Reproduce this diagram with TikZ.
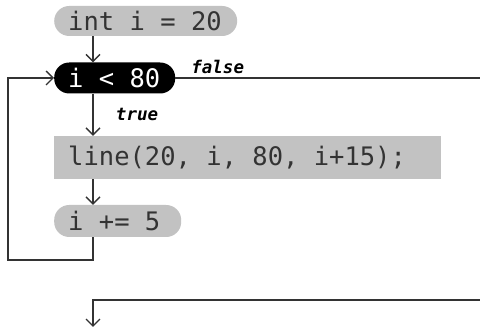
\documentclass[tikz,border=0pt]{standalone}
\usepackage{xcolor}
\usepackage{fontspec}
\usepackage{tikz}
\usetikzlibrary{arrows.meta,calc}
\newfontfamily\codefont{DejaVu Sans Mono}
\newcommand\gap{\kern0.602em} % one monospace cell
\definecolor{boxgray}{HTML}{C2C2C2}
\definecolor{ink}{HTML}{333333}

\begin{document}
\begin{tikzpicture}[x=1pt, y=1pt,
  block/.style={anchor=west, fill=boxgray, inner xsep=14pt, inner ysep=0pt, align=left, text=ink,
    font=\codefont\fontsize{25.5}{27}\selectfont},
  pill/.style={block, rounded corners=15pt},
  test/.style={pill, fill=black, text=white},
  tag/.style={font=\codefont\bfseries\itshape\fontsize{17.5}{19}\selectfont, text=black},
  arrow/.style={-{Straight Barb[length=7pt,width=14pt]}, line width=1.3pt, draw=ink},
  wire/.style={line width=1.3pt, draw=ink}
]
  \useasboundingbox (0,0) rectangle (480,329);

  \node[pill, text width=155pt, minimum height=30pt] (init) at (54,308)   {int\gap i\gap =\gap 20};
  \node[test, text width=93pt,  minimum height=31pt] (cond) at (54,251)   {i\gap <\gap 80};
  \node[block,text width=359pt, minimum height=43pt] (body) at (54,171.5) {line(20,\gap i,\gap 80,\gap i+15);};
  \node[pill, text width=99pt,  minimum height=32pt] (incr) at (54,108)   {i\gap +=\gap 5};

  % flow runs down one column, loop goes round the left
  \coordinate (spine) at (93,0);
  \coordinate (back)  at (8,69);
  \coordinate (edge)  at (480,0);
  \coordinate (after) at (480,29);
  \coordinate (done)  at (93,2);

  \draw[arrow] (init.south -| spine) -- (cond.north -| spine);
  \draw[arrow] (cond.south -| spine) -- node[tag, right, xshift=19pt] {true} (body.north -| spine);
  \draw[arrow] (body.south -| spine) -- (incr.north -| spine);
  \draw[arrow] (incr.south -| spine) |- (back) |- (cond.west);
  \draw[wire]  (cond.east) -- node[tag, pos=0, anchor=south west, xshift=12pt] {false} (cond.east -| edge);
  \draw[arrow] (after) -| (done);
\end{tikzpicture}
\end{document}
